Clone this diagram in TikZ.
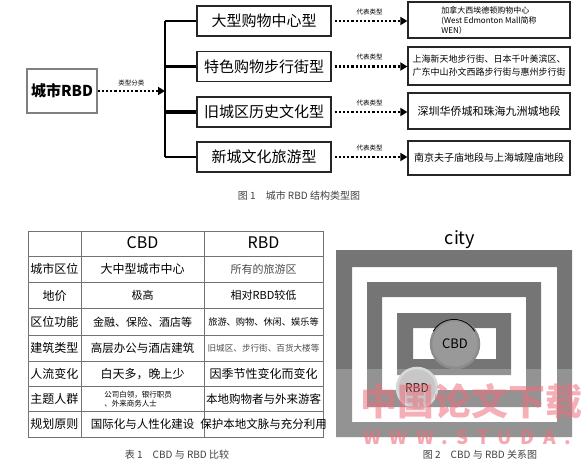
\documentclass[tikz,border=0pt]{standalone}
\usepackage{fontspec}
\setmainfont{Noto Sans CJK SC}
\usetikzlibrary{arrows.meta}
\definecolor{band}{gray}{0.46}
\definecolor{tline}{gray}{0.45}
\definecolor{wm}{RGB}{236,110,125}
\begin{document}
\begin{tikzpicture}[x=1pt,y=-1pt,
  bx/.style={draw=black!85,line width=1.2pt,inner sep=0pt,align=center},
  typebox/.style={bx,minimum width=134pt,minimum height=30pt,font=\fontsize{15}{17}\selectfont},
  exbox/.style={bx,minimum width=162pt,font=\fontsize{9}{11}\selectfont},
  dotarrow/.style={line width=2.2pt,dotted,-{Triangle[length=7pt,width=8pt]}},
  smalllab/.style={font=\fontsize{6.5}{7}\selectfont,inner sep=1pt},
  cell/.style={inner sep=0pt,align=center,font=\fontsize{12}{13}\selectfont},
  captxt/.style={font=\fontsize{10}{12}\selectfont,text=black!75}]
\useasboundingbox (0,0) rectangle (584,468);
% ---------- Figure 1 ----------
\node[bx,draw=black!50,minimum width=70pt,minimum height=44pt,font=\fontsize{15}{17}\selectfont\bfseries] (rbd) at (62,91) {城市RBD};
\coordinate (jm) at (165,91);
\coordinate (j1) at (165,21);
\coordinate (j2) at (165,66.5);
\coordinate (j3) at (165,112);
\coordinate (j4) at (165,157);
\draw[dotarrow] (rbd.east) -- (jm) node[midway,above=3pt,smalllab] (lab0) {类型分类};
\draw[line width=2pt] (j1) -- (j4);
\node[typebox] (t1) at (264,21) {大型购物中心型};
\node[typebox] (t2) at (264,66.5) {特色购物步行街型};
\node[typebox] (t3) at (264,112) {旧城区历史文化型};
\node[typebox] (t4) at (264,157) {新城文化旅游型};
\draw[line width=2pt] (j1) -- (t1.west);
\draw[line width=3.2pt] (j2) -- (t2.west);
\draw[line width=3.2pt] (j3) -- (t3.west);
\draw[line width=2pt] (j4) -- (t4.west);
\node[exbox,minimum height=36pt,align=left,font=\fontsize{8}{10}\selectfont] (e1) at (489,20) {加拿大西埃德顿购物中心\\(West Edmonton Mall简称\\WEN）};
\node[exbox,minimum height=38pt,font=\fontsize{9}{13}\selectfont] (e2) at (489,66) {上海新天地步行街、日本千叶美滨区、\\广东中山孙文西路步行街与惠州步行街};
\node[exbox,minimum height=36pt,font=\fontsize{11}{13}\selectfont] (e3) at (489,111) {深圳华侨城和珠海九洲城地段};
\node[exbox,minimum height=34pt,font=\fontsize{10}{12}\selectfont] (e4) at (489,158) {南京夫子庙地段与上海城隍庙地段};
\foreach \i in {1,2,3,4}{
  \draw[dotarrow,shorten <=3pt] (t\i.east) -- (t\i.east -| e\i.west) node[midway,above=4pt,smalllab] (lab\i) {代表类型};
}
\node[captxt] (cap1) at (299,196) {图 1\quad 城市 RBD 结构类型图};
% ---------- Table 1 ----------
\draw[tline,line width=0.9pt] (28,231) rectangle (323,437);
\foreach \yy in {256,282.5,308.5,335,361.5,386.5,411.5}{
  \draw[tline,line width=0.9pt] (28,\yy) -- (323,\yy);
}
\draw[tline,line width=0.9pt] (81,231) -- (81,437);
\draw[tline,line width=0.9pt] (204,231) -- (204,437);
\node[cell,font=\fontsize{16}{18}\selectfont] (h1) at (142.5,243) {CBD};
\node[cell,font=\fontsize{16}{18}\selectfont] (h2) at (263.5,243) {RBD};
\node[cell] (r1a) at (54.5,269) {城市区位};
\node[cell] (r1b) at (142.5,269) {大中型城市中心};
\node[cell,font=\fontsize{11}{13}\selectfont,text=black!70] (r1c) at (263.5,269) {所有的旅游区};
\node[cell] (r2a) at (54.5,295.5) {地价};
\node[cell,font=\fontsize{11}{13}\selectfont] (r2b) at (142.5,295.5) {极高};
\node[cell,font=\fontsize{11}{13}\selectfont] (r2c) at (263.5,295.5) {相对RBD较低};
\node[cell] (r3a) at (54.5,322) {区位功能};
\node[cell,font=\fontsize{11}{13}\selectfont] (r3b) at (142.5,322) {金融、保险、酒店等};
\node[cell,font=\fontsize{9.2}{11}\selectfont] (r3c) at (263.5,322) {旅游、购物、休闲、娱乐等};
\node[cell] (r4a) at (54.5,348) {建筑类型};
\node[cell,font=\fontsize{11.5}{13}\selectfont] (r4b) at (142.5,348) {高层办公与酒店建筑};
\node[cell,font=\fontsize{8.6}{10}\selectfont,text=black!70] (r4c) at (263.5,348) {旧城区、步行街、百货大楼等};
\node[cell] (r5a) at (54.5,374) {人流变化};
\node[cell] (r5b) at (142.5,374) {白天多，晚上少};
\node[cell] (r5c) at (263.5,374) {因季节性变化而变化};
\node[cell] (r6a) at (54.5,399) {主题人群};
\node[cell,font=\fontsize{7.5}{9}\selectfont,align=left] (r6b) at (138,399) {公司白领，银行职员\\、外来商务人士};
\node[cell,font=\fontsize{11.5}{13}\selectfont] (r6c) at (263.5,399) {本地购物者与外来游客};
\node[cell] (r7a) at (54.5,424) {规划原则};
\node[cell,font=\fontsize{11.5}{13}\selectfont] (r7b) at (142.5,424) {国际化与人性化建设};
\node[cell,font=\fontsize{11.5}{13}\selectfont] (r7c) at (263.5,424) {保护本地文脉与充分利用};
\node[captxt] (cap2) at (177,455) {表 1\quad CBD 与 RBD 比较};
% ---------- Figure 2 ----------
\node[font=\fontsize{18}{20}\selectfont] (city) at (460,240) {city};
\fill[band,even odd rule] (336,250) rectangle (572,437) (352,267) rectangle (557,422);
\fill[band,even odd rule] (367,282) rectangle (541,407) (382,297) rectangle (526,390);
\fill[band,even odd rule] (397,313) rectangle (511,375) (413,328) rectangle (496,359);
% lighter lower part
\fill[white,opacity=0.22] (336,369) rectangle (572,437);
\node[circle,draw=black!45,line width=2.5pt,fill=black!40,minimum size=48pt,inner sep=0pt,font=\fontsize{13}{15}\selectfont] (cbd) at (455,344) {CBD};
\draw[black,line width=0.8pt] (cbd.150) arc[start angle=150,end angle=30,radius=24pt];
\node[circle,draw=white!85!black,line width=2.5pt,fill=black!22,minimum size=40pt,inner sep=0pt,font=\fontsize{12}{14}\selectfont,text=black!80!red] (rbdc) at (417,388) {RBD};
% watermark
\node[text=wm,opacity=0.55,font=\fontsize{37}{38}\selectfont\bfseries] (wm1) at (471,401) {中国论文下载};
\node[text=wm,opacity=0.6,anchor=west,font=\fontsize{19}{20}\selectfont\bfseries\addfontfeature{LetterSpace=45}] (wm2) at (360,437) {WWW.STUDA.};
\node[captxt] (cap3) at (480,455) {图 2\quad CBD 与 RBD 关系图};
\end{tikzpicture}
\end{document}
